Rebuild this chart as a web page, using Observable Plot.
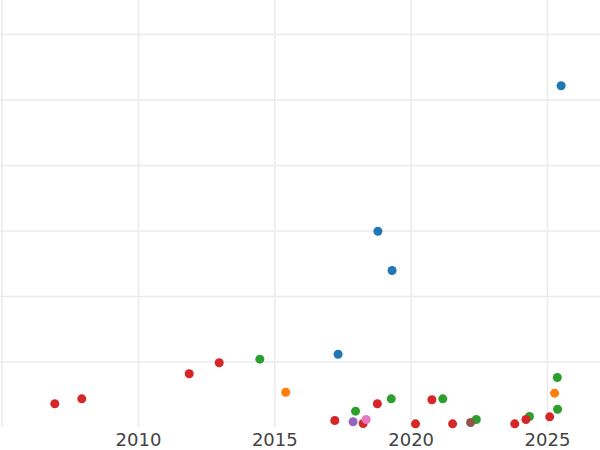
<!DOCTYPE html>
<html><head><meta charset="utf-8">
<script src="https://cdn.jsdelivr.net/npm/d3@7"></script>
<script src="https://cdn.jsdelivr.net/npm/@observablehq/plot@0.6"></script>
<style>body{margin:0;background:#fff} svg{display:block}</style>
</head><body><div id="chart"></div>
<script>
const groups = ["A","B","C","D","E","F","G"];
const groupColors = ["#1f77b4","#ff7f0e","#2ca02c","#d62728","#9467bd","#8c564b","#e377c2"];
const pointYear  = [2006.93,2007.92,2011.86,2012.96,2014.45,2015.40,2017.32,2017.20,2017.87,2017.96,2018.24,2018.35,2018.76,2018.78,2019.27,2019.30,2020.16,2020.76,2021.16,2021.52,2022.18,2022.39,2023.80,2024.34,2024.21,2025.08,2025.37,2025.26,2025.36,2025.50];
const pointValue = [3.62,4.38,8.20,9.88,10.43,5.39,11.19,1.07,0.87,2.49,0.61,1.22,3.62,29.97,4.38,23.97,0.56,4.23,4.38,0.56,0.76,1.22,0.56,1.68,1.22,1.63,2.79,5.24,7.63,52.17];
const pointGroup = ["D","D","D","D","C","B","A","D","E","C","D","G","D","A","C","A","D","D","C","D","F","C","D","C","D","D","C","B","C","A"];
const xTicks = [2010,2015,2020,2025];
const xGrid = [2005,2010,2015,2020,2025];
const yGrid = [10,20,30,40,50,60];

const data = pointYear.map((x,i)=>({x, y: pointValue[i], g: pointGroup[i]}))
  .sort((a,b)=>groups.indexOf(a.g)-groups.indexOf(b.g));

const chart = Plot.plot({
  width: 600, height: 450,
  marginLeft: 0, marginRight: 0, marginTop: 0, marginBottom: 23,
  style: {fontFamily: "DejaVu Sans", background: "#fff"},
  x: {domain: [2004.939, 2026.944]},
  y: {domain: [0, 65.19]},
  color: {domain: groups, range: groupColors},
  marks: [
    Plot.ruleX(xGrid, {stroke: "#ebebeb", strokeWidth: 1.5}),
    Plot.ruleY(yGrid, {stroke: "#ebebeb", strokeWidth: 1.5}),
    Plot.axisX(xTicks, {tickSize: 0, tickPadding: 6, fontSize: 18, fill: "#444", tickFormat: d => String(d), label: null}),
    Plot.axisY({ticks: [], label: null}),
    Plot.dot(data, {x: "x", y: "y", fill: "g", r: 4.5, stroke: null})
  ]
});
document.getElementById("chart").append(chart);
</script>
</body></html>
